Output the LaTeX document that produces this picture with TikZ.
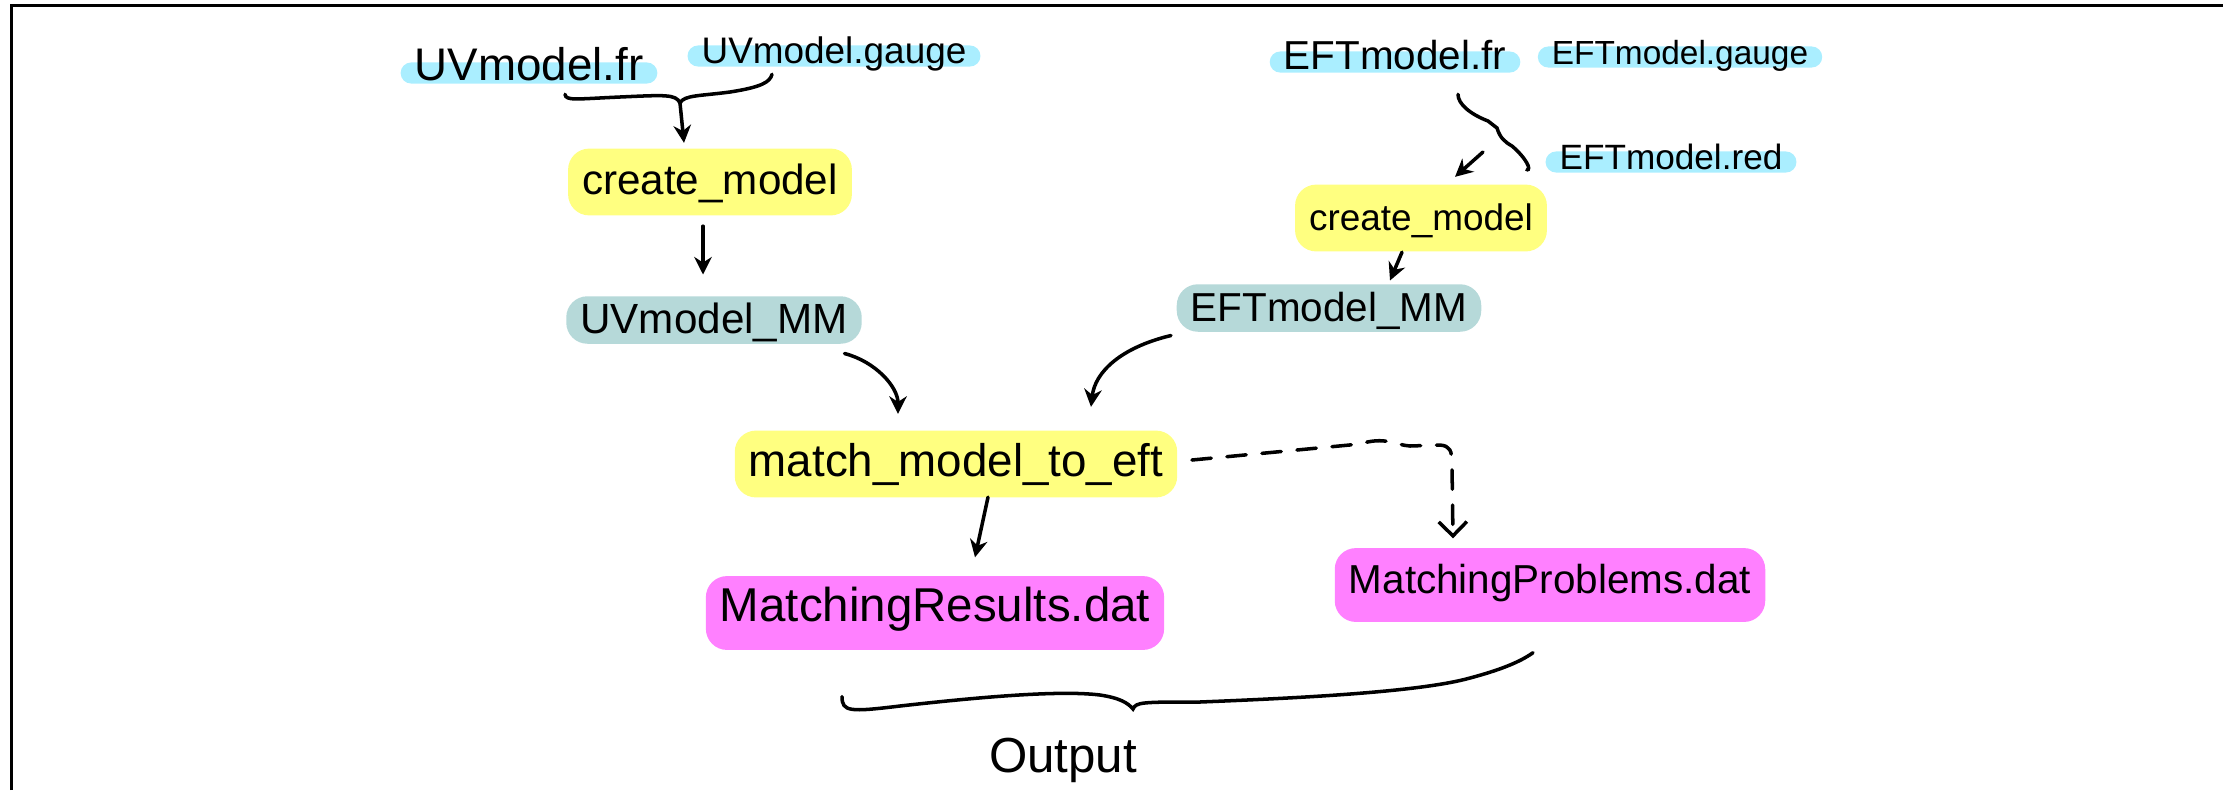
\documentclass[tikz,border=0pt]{standalone}
\usepackage{fontspec}
\setmainfont{Liberation Sans}
\usetikzlibrary{arrows.meta}

% highlighter colours
\definecolor{hlblue}{HTML}{AAEEFF}
\definecolor{hlyellow}{HTML}{FFFF80}
\definecolor{hlteal}{HTML}{B6D9D9}
\definecolor{hlpink}{HTML}{FF80FF}

\newcommand{\hw}[1]{\fontsize{#1}{#1}\selectfont}

\tikzset{
  hl/.style={inner xsep=4pt, rounded corners=6pt},
  infile/.style={hl, fill=hlblue, rounded corners=3pt, text height=4.5pt, text depth=0.5pt, inner ysep=0.5pt},
  script/.style={hl, fill=hlyellow, text height=10pt, text depth=3pt, inner ysep=3pt},
  mmfile/.style={hl, fill=hlteal, text height=9pt, text depth=1.5pt, inner ysep=1.5pt},
  outfile/.style={hl, fill=hlpink, text height=10pt, text depth=5pt, inner ysep=3pt},
}

\begin{document}
\begin{tikzpicture}[x=0.01cm, y=-0.01cm, line width=1pt, line cap=round,
    >={Stealth[length=5pt,width=5pt]}]
  \useasboundingbox (0,0) rectangle (2223,790);
  \draw[line width=0.9pt, line cap=butt] (11.5,790) -- (11.5,5.5) -- (2223,5.5);

  \path
    (529,73) node[infile, font=\hw{13}] (uvfr) {UVmodel.fr}
    (834,56) node[infile, font=\hw{10.5}] (uvgauge) {UVmodel.gauge}
    (710,182) node[script, font=\hw{12}] (uvcreate) {create\_model}
    (714,320) node[mmfile, font=\hw{12}] (uvmm) {UVmodel\_MM}
    (1395,62) node[infile, font=\hw{11.5}] (eftfr) {EFTmodel.fr}
    (1680,57) node[infile, font=\hw{9.5}] (eftgauge) {EFTmodel.gauge}
    (1671,162) node[infile, font=\hw{10}] (eftred) {EFTmodel.red}
    (1421,218) node[script, font=\hw{10.5}] (eftcreate) {create\_model}
    (1329,308) node[mmfile, font=\hw{11.5}] (eftmm) {EFTmodel\_MM}
    (956,464) node[script, font=\hw{13}] (match) {match\_model\_to\_eft}
    (935,613) node[outfile, font=\hw{13.5}] (results) {MatchingResults.dat}
    (1550,585) node[outfile, font=\hw{11.5}] (problems) {MatchingProblems.dat}
    (1063,760) node[font=\hw{14}] (output) {Output};

  \coordinate (uvjoin) at (680,103);
  \coordinate (eftsplit) at (1483,152);
  \coordinate (outtip) at (1133,709);

  % UV side
  \draw ([shift={(36,9)}]uvfr.south) .. controls (566,101) and (575,99) .. (620,97)
    .. controls (665,95) and (676,94) .. (uvjoin)
    .. controls (684,95) and (700,96) .. (730,92)
    .. controls (762,87) and (770,82) .. ([shift={(-62,6)}]uvgauge.south);
  \begin{scope}[->]
    \draw (uvjoin) -- ([shift={(-26,-4)}]uvcreate.north);
    \draw ([shift={(-7,9)}]uvcreate.south) -- ([shift={(-11,-20)}]uvmm.north);
    \draw ([shift={(-19,8)}]uvmm.south east) .. controls +(31,8) and +(0,-27) .. ([shift={(-58,-15)}]match.north);
  \end{scope}

  % EFT side
  \draw ([shift={(63,20)}]eftfr.south) .. controls (1458,104) and (1470,114) .. (1488,121)
    -- (1497,128) .. controls (1500,138) and (1505,142) .. (1512,146)
    .. controls (1526,158) and (1532,170) .. ([shift={(-17,8)}]eftred.west);
  \begin{scope}[->]
    \draw (eftsplit) -- ([shift={(34,-6)}]eftcreate.north);
    \draw ([shift={(-19,-1)}]eftcreate.south) -- ([shift={(61,-2)}]eftmm.north);
    \draw ([shift={(-4,2)}]eftmm.south west) .. controls +(-50,12) and +(4,-35) .. ([shift={(135,-22)}]match.north);
  \end{scope}

  % results
  \draw[->] ([shift={(32,-2)}]match.south) -- ([shift={(40,-17)}]results.north);
  \draw[dash pattern=on 5.5pt off 4.5pt, -{Straight Barb[length=4pt,width=8pt]}]
    ([shift={(13,-4)}]match.east) -- (1360,444)
    .. controls (1385,436) and (1395,445) .. (1410,446) -- (1440,445)
    .. controls (1450,446) and (1452,450) .. (1452,465)
    -- ([shift={(-97,-8)}]problems.north);

  % output brace
  \draw ([shift={(-93,45)}]results.south) .. controls (842,712) and (850,712) .. (900,706)
    .. controls (980,697) and (1060,690) .. (1100,695)
    .. controls (1120,698) and (1128,703) .. (outtip)
    .. controls (1136,702) and (1142,702) .. (1200,702)
    .. controls (1300,698) and (1420,692) .. (1470,678)
    .. controls (1500,670) and (1520,662) .. ([shift={(-17,29)}]problems.south);
\end{tikzpicture}
\end{document}
